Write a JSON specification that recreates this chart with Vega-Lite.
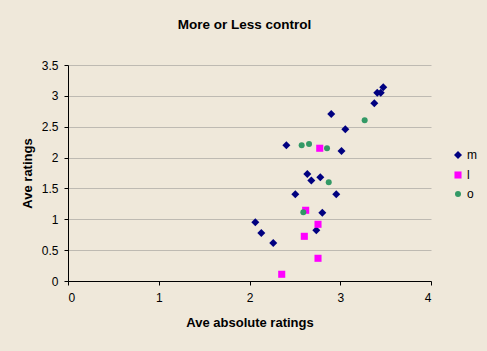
{
  "$schema": "https://vega.github.io/schema/vega-lite/v6.json",
  "width": 363,
  "height": 216,
  "autosize": {"type": "none"},
  "padding": {"left": 68, "top": 65, "right": 56, "bottom": 70},
  "background": "#EFE8DA",
  "title": {
    "text": "More or Less control",
    "font": "Liberation Sans",
    "fontSize": 13.5,
    "fontWeight": "bold",
    "color": "#000000",
    "anchor": "middle",
    "dx": -5,
    "offset": 28
  },
  "data": {
    "values": [
      {"x": 3.474, "y": 3.139, "s": "m"},
      {"x": 3.408, "y": 3.052, "s": "m"},
      {"x": 3.446, "y": 3.052, "s": "m"},
      {"x": 3.375, "y": 2.880, "s": "m"},
      {"x": 3.056, "y": 2.459, "s": "m"},
      {"x": 3.014, "y": 2.107, "s": "m"},
      {"x": 2.901, "y": 2.707, "s": "m"},
      {"x": 2.406, "y": 2.199, "s": "m"},
      {"x": 2.637, "y": 1.734, "s": "m"},
      {"x": 2.681, "y": 1.629, "s": "m"},
      {"x": 2.780, "y": 1.681, "s": "m"},
      {"x": 2.505, "y": 1.405, "s": "m"},
      {"x": 2.956, "y": 1.405, "s": "m"},
      {"x": 2.802, "y": 1.107, "s": "m"},
      {"x": 2.736, "y": 0.822, "s": "m"},
      {"x": 2.064, "y": 0.951, "s": "m"},
      {"x": 2.130, "y": 0.778, "s": "m"},
      {"x": 2.262, "y": 0.616, "s": "m"},
      {"x": 2.774, "y": 2.151, "s": "l"},
      {"x": 2.619, "y": 1.146, "s": "l"},
      {"x": 2.755, "y": 0.919, "s": "l"},
      {"x": 2.604, "y": 0.724, "s": "l"},
      {"x": 2.755, "y": 0.368, "s": "l"},
      {"x": 2.355, "y": 0.109, "s": "l"},
      {"x": 2.575, "y": 2.199, "s": "o"},
      {"x": 2.656, "y": 2.220, "s": "o"},
      {"x": 2.854, "y": 2.151, "s": "o"},
      {"x": 2.873, "y": 1.600, "s": "o"},
      {"x": 2.593, "y": 1.113, "s": "o"},
      {"x": 3.269, "y": 2.605, "s": "o"}
    ]
  },
  "mark": {"type": "point", "filled": true, "opacity": 1},
  "encoding": {
    "x": {
      "field": "x",
      "type": "quantitative",
      "scale": {"domain": [0, 4], "nice": false, "zero": true},
      "axis": {
        "title": "Ave absolute ratings",
        "values": [0, 1, 2, 3, 4],
        "grid": false,
        "domainColor": "#000000",
        "tickColor": "#000000",
        "tickSize": 4,
        "labelPadding": 7,
        "labelFont": "Liberation Sans",
        "labelFontSize": 12,
        "labelColor": "#000000",
        "titleFont": "Liberation Sans",
        "titleFontSize": 13,
        "titleFontWeight": "bold",
        "titleColor": "#000000",
        "titlePadding": 13
      }
    },
    "y": {
      "field": "y",
      "type": "quantitative",
      "scale": {"domain": [0, 3.5], "nice": false},
      "axis": {
        "title": "Ave ratings",
        "values": [0, 0.5, 1, 1.5, 2, 2.5, 3, 3.5],
        "format": ".1~f",
        "grid": true,
        "gridColor": "#BEBAB2",
        "domainColor": "#000000",
        "tickColor": "#000000",
        "tickSize": 4,
        "labelPadding": 6,
        "labelFont": "Liberation Sans",
        "labelFontSize": 12,
        "labelColor": "#000000",
        "titleFont": "Liberation Sans",
        "titleFontSize": 13,
        "titleFontWeight": "bold",
        "titleColor": "#000000",
        "titlePadding": 7
      }
    },
    "color": {
      "field": "s",
      "type": "nominal",
      "scale": {"domain": ["m", "l", "o"], "range": ["#000080", "#FF00FF", "#339966"]},
      "legend": {
        "title": null,
        "orient": "none",
        "legendX": 384,
        "legendY": 84,
        "padding": 0,
        "rowPadding": 6,
        "labelOffset": 3,
        "labelFont": "Liberation Sans",
        "labelFontSize": 12,
        "labelColor": "#000000",
        "symbolOpacity": 1
      }
    },
    "shape": {
      "field": "s",
      "type": "nominal",
      "scale": {"domain": ["m", "l", "o"], "range": ["diamond", "square", "circle"]}
    },
    "size": {
      "field": "s",
      "type": "nominal",
      "scale": {"domain": ["m", "l", "o"], "range": [64, 36, 36]}
    }
  },
  "config": {
    "view": {"stroke": null},
    "axis": {"domainWidth": 1, "tickWidth": 1}
  }
}
